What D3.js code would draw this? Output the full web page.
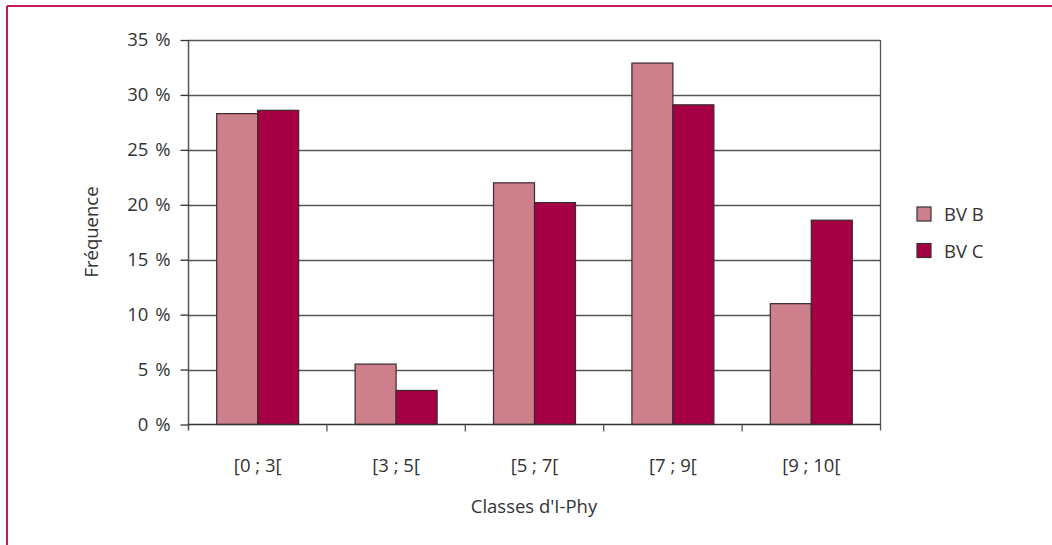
<!DOCTYPE html>
<html>
<head>
<meta charset="utf-8">
<script src="https://cdn.jsdelivr.net/npm/d3@7"></script>
<style>
  html, body { margin: 0; padding: 0; background: #fff; }
  svg { display: block; }
  text { font-family: "Open Sans", "Lato", sans-serif; fill: #333; font-size: 18.5px; }
</style>
</head>
<body>
<svg id="chart" width="1052" height="545"></svg>
<script>
// Classes of the I-Phy index and the share of stations in each
const categories = ["[0 ; 3[", "[3 ; 5[", "[5 ; 7[", "[7 ; 9[", "[9 ; 10["];
const seriesNames = ["BV B", "BV C"];
const bvB = [28.3, 5.5, 22.0, 32.9, 11.0];
const bvC = [28.6, 3.1, 20.2, 29.1, 18.6];
const yTicks = [0, 5, 10, 15, 20, 25, 30, 35];
const colors = ["#CD7F8B", "#A50044"];

const svg = d3.select("#chart");

// Page frame (top and left rule)
svg.append("line").attr("x1", 7).attr("x2", 1052).attr("y1", 6).attr("y2", 6)
  .attr("stroke", "#C2185B").attr("stroke-width", 2);
svg.append("line").attr("x1", 7).attr("x2", 7).attr("y1", 6).attr("y2", 545)
  .attr("stroke", "#C2185B").attr("stroke-width", 2);

const plot = { left: 188.5, right: 880.5, top: 40, bottom: 424.5 };

const x = d3.scaleBand().domain(categories).range([plot.left, plot.right]);
const xInner = d3.scaleBand().domain(seriesNames).range([0, 82])
  .paddingInner(0).paddingOuter(0);
const y = d3.scaleLinear().domain([0, 35]).range([plot.bottom, plot.top]);

// Horizontal grid lines
svg.append("g").selectAll("line").data(yTicks.filter(t => t > 0)).join("line")
  .attr("x1", plot.left).attr("x2", plot.right)
  .attr("y1", d => Math.round(y(d)) + 0.5).attr("y2", d => Math.round(y(d)) + 0.5)
  .attr("stroke", "#555").attr("stroke-width", 1.3);

// Right border of plot area
svg.append("line").attr("x1", plot.right).attr("x2", plot.right)
  .attr("y1", plot.top).attr("y2", plot.bottom + 6)
  .attr("stroke", "#555").attr("stroke-width", 1.3);

// Bars
const rows = categories.map((c, i) => ({ cat: c, vals: [bvB[i], bvC[i]] }));
const groups = svg.append("g").selectAll("g").data(rows).join("g")
  .attr("transform", d => `translate(${x(d.cat) + x.bandwidth() / 2 - 41},0)`);
groups.selectAll("rect").data(d => d.vals.map((v, k) => ({ name: seriesNames[k], v, k })))
  .join("rect")
  .attr("x", d => xInner(d.name))
  .attr("width", xInner.bandwidth())
  .attr("y", d => y(d.v))
  .attr("height", d => y(0) - y(d.v))
  .attr("fill", d => colors[d.k])
  .attr("stroke", "#3a2a30").attr("stroke-width", 1.2);

// Y axis
const yAxis = d3.axisLeft(y).tickValues(yTicks).tickFormat(d => d + " %")
  .tickSize(8).tickPadding(10);
const gy = svg.append("g").attr("transform", `translate(${plot.left},0)`).call(yAxis);
gy.select(".domain").attr("stroke", "#555").attr("stroke-width", 1.5)
  .attr("d", `M0,${plot.top}V${plot.bottom + 6}`);
gy.selectAll(".tick line").attr("stroke", "#333").attr("stroke-width", 1.3);
gy.selectAll(".tick text").style("font-size", "18.5px").style("font-family", "'Open Sans', sans-serif")
  .style("word-spacing", "2px").attr("fill", "#333");

// X axis with ticks on category boundaries
const gx = svg.append("g").attr("transform", `translate(0,${plot.bottom})`);
gx.append("line").attr("x1", plot.left).attr("x2", plot.right).attr("y1", 0).attr("y2", 0)
  .attr("stroke", "#333").attr("stroke-width", 1.5);
const bounds = categories.map(c => x(c)).slice(1);
gx.selectAll("line.tk").data(bounds).join("line").attr("class", "tk")
  .attr("x1", d => d).attr("x2", d => d).attr("y1", 0).attr("y2", 7)
  .attr("stroke", "#555").attr("stroke-width", 1.3);
gx.selectAll("text").data(categories).join("text")
  .attr("x", d => x(d) + x.bandwidth() / 2).attr("y", 47)
  .attr("text-anchor", "middle").text(d => d);

// Axis titles
svg.append("text").attr("x", 534).attr("y", 513).attr("text-anchor", "middle")
  .text("Classes d'I-Phy");
svg.append("text").attr("transform", "translate(98,232) rotate(-90)")
  .attr("text-anchor", "middle").text("Fréquence");

// Legend
const legend = svg.append("g").selectAll("g").data(seriesNames).join("g")
  .attr("transform", (d, i) => `translate(917,${207 + i * 36.5})`);
legend.append("rect").attr("width", 14).attr("height", 14)
  .attr("fill", (d, i) => colors[i]).attr("stroke", "#333").attr("stroke-width", 1.2);
legend.append("text").attr("x", 27).attr("y", 14).text(d => d);
</script>
</body>
</html>
